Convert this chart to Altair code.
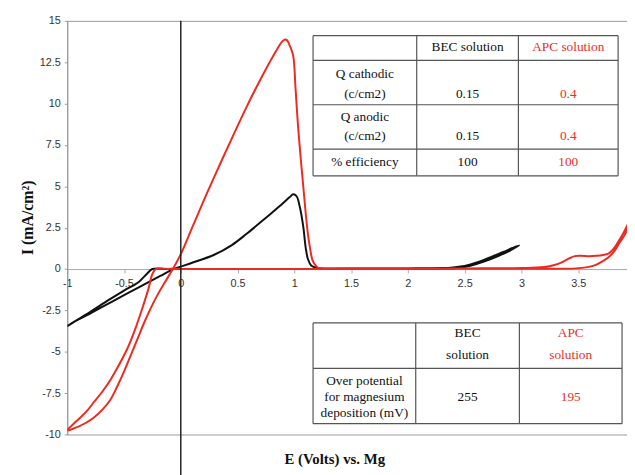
import altair as alt
import pandas as pd

# ---------------- data ----------------
bec_E = [0.0, -0.12, -0.25, -0.3, -0.37, -0.5, -0.63, -0.8, -1.0,
         -0.9, -0.78, -0.6, -0.45, -0.3, -0.18, -0.08, 0.0, 0.1, 0.29, 0.45, 0.58,
         0.75, 0.88, 0.96, 0.99, 1.02, 1.05, 1.08, 1.10, 1.12, 1.15, 1.2, 1.5, 2.0,
         2.3, 2.4, 2.5, 2.6, 2.67, 2.75, 2.84, 2.92, 2.98,
         2.9, 2.8, 2.67, 2.55, 2.45, 2.3, 2.0]
bec_I = [0.02, 0.01, 0.0, -0.3, -0.78, -1.3, -1.85, -2.6, -3.45,
         -3.05, -2.62, -1.95, -1.4, -0.85, -0.42, -0.05, 0.15, 0.38, 0.85, 1.45, 2.13,
         3.1, 3.85, 4.35, 4.52, 4.4, 3.7, 2.5, 1.3, 0.6, 0.2, 0.07, 0.04, 0.04,
         0.06, 0.1, 0.18, 0.38, 0.55, 0.78, 1.03, 1.27, 1.43,
         1.12, 0.8, 0.45, 0.2, 0.08, 0.03, 0.02]

apc_E = [0.0, -0.1, -0.22, -0.25, -0.285, -0.34, -0.40, -0.47, -0.545, -0.62,
         -0.69, -0.76, -0.83, -0.92, -1.0,
         -0.93, -0.85, -0.77, -0.69, -0.62, -0.56, -0.5, -0.44, -0.38, -0.32,
         -0.26, -0.2, -0.14, -0.07, 0.0, 0.1, 0.2, 0.29, 0.45, 0.58, 0.72, 0.85, 0.9,
         0.93, 0.96, 0.99, 1.01, 1.03, 1.055, 1.08, 1.10, 1.12, 1.14, 1.16, 1.19,
         1.22, 1.5, 2.0, 2.5, 3.0, 3.2, 3.29, 3.36, 3.42, 3.47, 3.52, 3.6, 3.66,
         3.72, 3.77, 3.82, 3.86, 3.9, 3.93, 3.97,
         3.97, 3.93, 3.9, 3.86, 3.82, 3.77, 3.71, 3.65, 3.57, 3.48, 3.2, 2.5, 1.5,
         0.5, 0.0]
apc_I = [0.02, 0.01, 0.0, -0.3, -1.2, -2.4, -3.6, -4.8, -5.8, -6.7,
         -7.4, -8.0, -8.6, -9.2, -9.75,
         -9.6, -9.35, -9.0, -8.5, -7.9, -7.1, -6.2, -5.2, -4.2, -3.2,
         -2.3, -1.5, -0.8, 0.0, 0.9, 2.5, 4.1, 5.5, 7.9, 9.8, 11.7, 13.3, 13.8,
         13.86, 13.5, 12.9, 11.0, 8.9, 6.8, 4.9, 3.4, 2.1, 1.2, 0.54, 0.2,
         0.05, 0.03, 0.03, 0.04, 0.06, 0.12, 0.24, 0.42, 0.64, 0.78, 0.8, 0.78, 0.8,
         0.85, 0.95, 1.3, 1.73, 2.2, 2.6, 3.2,
         3.0, 2.35, 1.95, 1.55, 1.1, 0.73, 0.45, 0.24, 0.1, 0.04, 0.02, 0.01, 0.0,
         0.0, 0.0]

x_ticks = [-1, -0.5, 0, 0.5, 1, 1.5, 2, 2.5, 3, 3.5]
y_ticks = [-10, -7.5, -5, -2.5, 0, 2.5, 5, 7.5, 10, 12.5, 15]

table1_header = ["BEC solution", "APC solution"]
table1_rows = [["Q cathodic", "(c/cm2)"], ["Q anodic", "(c/cm2)"], ["% efficiency"]]
table1_bec = ["0.15", "0.15", "100"]
table1_apc = ["0.4", "0.4", "100"]

table2_header = [["BEC", "solution"], ["APC", "solution"]]
table2_row = ["Over potential", "for magnesium", "deposition (mV)"]
table2_bec = "255"
table2_apc = "195"

# ---------------- layout / style ----------------
W, H = 567, 419
X_MIN, X_MAX = -1, 3.93
Y_MIN, Y_MAX = -10, 15
RED = "#ee2a20"
BLACK = "#111111"
TXT_RED = "#e8302a"
SERIF = "Liberation Serif"
SANS = "Liberation Sans"

bec = pd.DataFrame({"E": bec_E, "I": bec_I, "order": range(len(bec_E))})
apc = pd.DataFrame({"E": apc_E, "I": apc_I, "order": range(len(apc_E))})

x_scale = alt.Scale(domain=[X_MIN, X_MAX], nice=False, zero=False)
y_scale = alt.Scale(domain=[Y_MIN, Y_MAX], nice=False, zero=False)
zero_px = H * Y_MAX / (Y_MAX - Y_MIN)

x_axis = alt.Axis(values=x_ticks, offset=-(H - zero_px), grid=False,
                  domainColor="#aaaaaa", tickColor="#aaaaaa", tickSize=4,
                  labelPadding=5, labelFont=SANS, labelFontSize=11,
                  labelColor="#333333", labelFlush=False, labelOverlap=False,
                  labelExpr="datum.value + ''", title=None)
y_axis = alt.Axis(values=y_ticks, grid=False, domainColor="#999999",
                  tickColor="#999999", tickSize=3, labelPadding=4,
                  labelFont=SANS, labelFontSize=11, labelColor="#333333",
                  labelExpr="datum.value + ''", labelFlush=False,
                  title="I (mA/cm²)", titleFont=SERIF, titleFontSize=16,
                  titleFontWeight="bold", titleColor="#111111",
                  titleX=-40, titleY=199, titleAngle=270,
                  titleAlign="center", titleBaseline="middle")

bec_line = alt.Chart(bec).mark_line(color=BLACK, strokeWidth=2, clip=True,
                                    interpolate="catmull-rom").encode(
    x=alt.X("E:Q", scale=x_scale, axis=x_axis),
    y=alt.Y("I:Q", scale=y_scale, axis=y_axis),
    order="order:Q",
)
apc_line = alt.Chart(apc).mark_line(color=RED, strokeWidth=2, clip=True,
                                    interpolate="catmull-rom").encode(
    x=alt.X("E:Q", scale=x_scale),
    y=alt.Y("I:Q", scale=y_scale),
    order="order:Q",
)

one = pd.DataFrame({"a": [0]})
layers = [bec_line, apc_line]

# vertical line at E = 0
layers.append(alt.Chart(one).mark_rule(color="#222222", strokeWidth=1.5, clip=False).encode(
    x=alt.datum(0), y=alt.value(0), y2=alt.value(H + 60)))


def text(s, x, y, color="#111111", size=13.5):
    return alt.Chart(one).mark_text(font=SERIF, fontSize=size, color=color,
                                    align="center", baseline="middle").encode(
        x=alt.value(x), y=alt.value(y), text=alt.value(s))


def box(x1, x2, y1, y2):
    return alt.Chart(one).mark_rect(fill="white").encode(
        x=alt.value(x1), x2=alt.value(x2), y=alt.value(y1), y2=alt.value(y2))


def hline(x1, x2, y):
    return alt.Chart(one).mark_rule(color="#555555", strokeWidth=1.2).encode(
        x=alt.value(x1), x2=alt.value(x2), y=alt.value(y))


def vline(x, y1, y2):
    return alt.Chart(one).mark_rule(color="#555555", strokeWidth=1.2).encode(
        x=alt.value(x), y=alt.value(y1), y2=alt.value(y2))


# ---- table 1 ----
L, C1, C2, R = 249, 354, 457, 558
rows = [15, 40, 85, 130, 157]
layers.append(box(L, R, rows[0], rows[-1]))
for yy in rows:
    layers.append(hline(L, R, yy))
for xx in (L, C1, C2, R):
    layers.append(vline(xx, rows[0], rows[-1]))
c0, c1, c2 = (L + C1) / 2, (C1 + C2) / 2, (C2 + R) / 2
layers.append(text(table1_header[0], c1, 27))
layers.append(text(table1_header[1], c2, 27, TXT_RED))
line_y = [[54, 74], [97, 117], [143]]
for lab, ys, vb, va in zip(table1_rows, line_y, table1_bec, table1_apc):
    for s, yy in zip(lab, ys):
        layers.append(text(s, c0, yy))
    layers.append(text(vb, c1, ys[-1]))
    layers.append(text(va, c2, ys[-1], TXT_RED))

# ---- table 2 ----
L2, D1, D2, R2 = 249, 353, 458, 562
rows2 = [306, 352, 408]
layers.append(box(L2, R2, rows2[0], rows2[-1]))
for yy in rows2:
    layers.append(hline(L2, R2, yy))
for xx in (L2, D1, D2, R2):
    layers.append(vline(xx, rows2[0], rows2[-1]))
d0, d1, d2 = (L2 + D1) / 2, (D1 + D2) / 2, (D2 + R2) / 2
for s, yy in zip(table2_header[0], (316, 339)):
    layers.append(text(s, d1, yy))
for s, yy in zip(table2_header[1], (316, 339)):
    layers.append(text(s, d2, yy, TXT_RED))
for s, yy in zip(table2_row, (365, 381, 397)):
    layers.append(text(s, d0, yy))
layers.append(text(table2_bec, d1, 381))
layers.append(text(table2_apc, d2, 381, TXT_RED))

# x axis title
layers.append(alt.Chart(one).mark_text(font=SERIF, fontSize=15, fontWeight="bold",
                                       color="#111111", align="center",
                                       baseline="middle").encode(
    x=alt.value(271), y=alt.value(444), text=alt.value("E (Volts) vs. Mg")))

chart = alt.layer(*layers).properties(
    width=W, height=H,
    autosize=alt.AutoSizeParams(type="none"),
    padding={"left": 60, "top": 10, "right": 0, "bottom": 38},
    background="white",
).configure_view(stroke="#999999", strokeWidth=1)

chart.save("out.html", embed_options={"renderer": "svg", "actions": False})
